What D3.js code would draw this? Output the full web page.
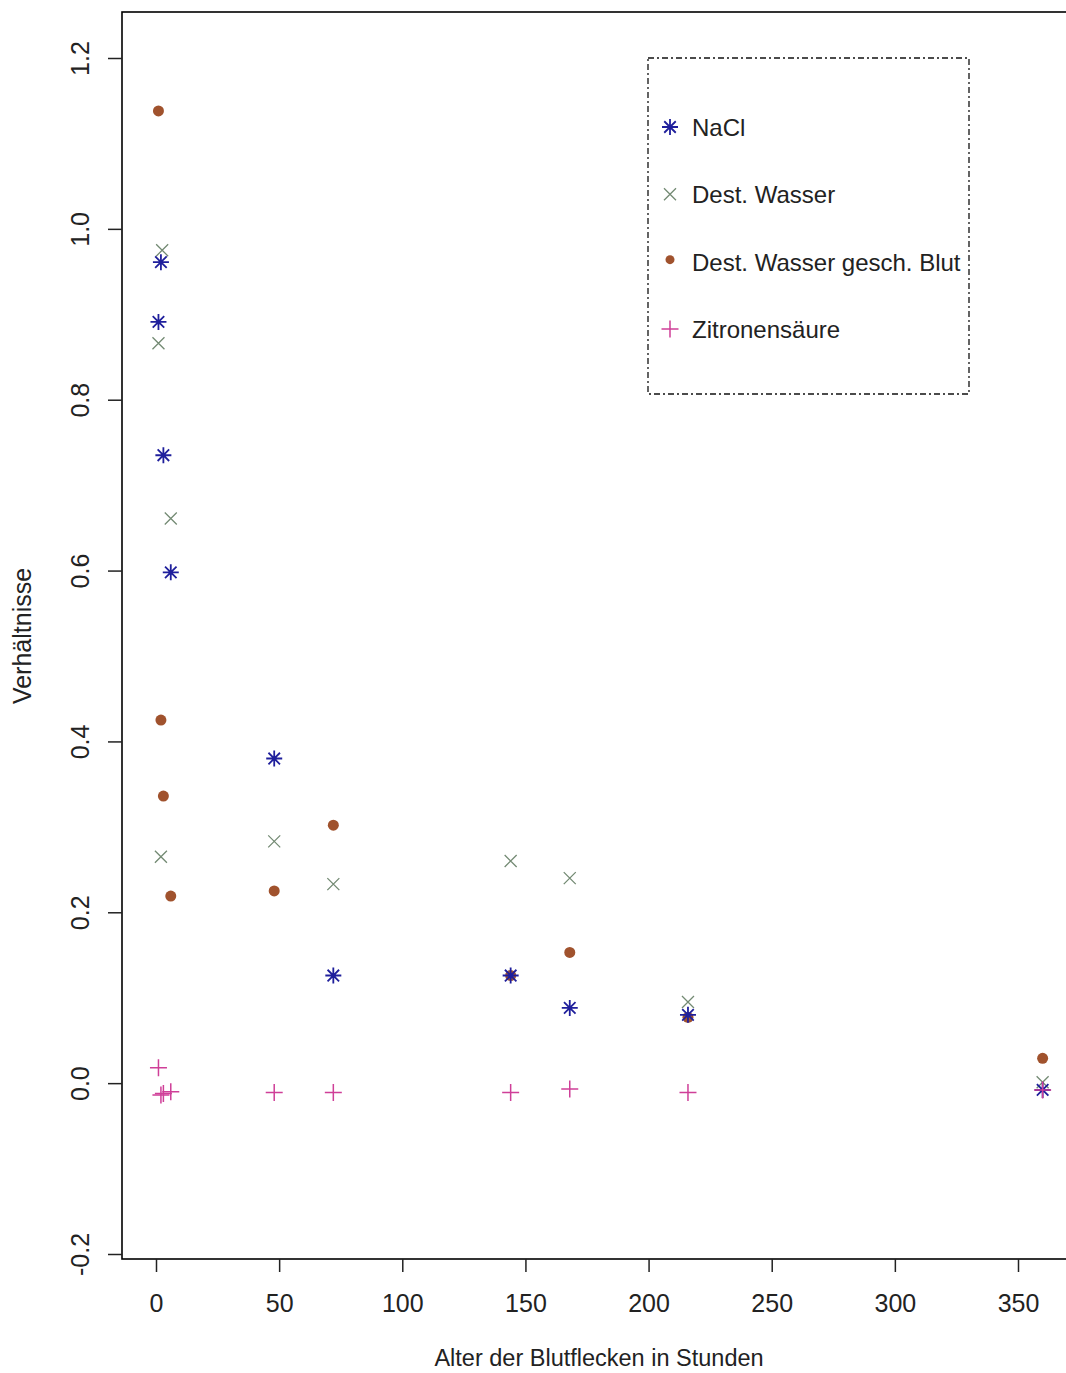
<!DOCTYPE html>
<html>
<head>
<meta charset="utf-8">
<script src="https://cdn.jsdelivr.net/npm/d3@7"></script>
<style>
  html, body { margin: 0; padding: 0; background: #fff; }
  svg { display: block; font-family: "Liberation Sans", Arial, sans-serif; }
</style>
</head>
<body>
<svg id="chart" width="1066" height="1373"></svg>
<script>
// Age of the blood stains (hours) and measured ratios per solvent
const hoursNaCl   = [1, 2, 3, 6, 48, 72, 144, 168, 216, 360];
const valuesNaCl  = [0.891, 0.961, 0.735, 0.598, 0.380, 0.126, 0.126, 0.088, 0.080, -0.008];

const hoursWasser  = [1, 2, 2.5, 6, 48, 72, 144, 168, 216, 360];
const valuesWasser = [0.866, 0.265, 0.975, 0.661, 0.283, 0.233, 0.260, 0.240, 0.095, 0.001];

const hoursBlut  = [1, 2, 3, 6, 48, 72, 144, 168, 216, 360];
const valuesBlut = [1.138, 0.425, 0.336, 0.219, 0.225, 0.302, 0.126, 0.153, 0.077, 0.029];

const hoursZitrone  = [1, 2, 3, 6, 48, 72, 144, 168, 216, 360];
const valuesZitrone = [0.018, -0.014, -0.012, -0.010, -0.011, -0.011, -0.011, -0.007, -0.011, -0.008];

const seriesNames = ["NaCl", "Dest. Wasser", "Dest. Wasser gesch. Blut", "Zitronensäure"];
const xTicks = [0, 50, 100, 150, 200, 250, 300, 350];
const yTicks = [-0.2, 0.0, 0.2, 0.4, 0.6, 0.8, 1.0, 1.2];
const yTickLabels = ["-0.2", "0.0", "0.2", "0.4", "0.6", "0.8", "1.0", "1.2"];

const xTitle = "Alter der Blutflecken in Stunden";
const yTitle = "Verhältnisse";

// ---- symbols (size = half-width in px) ----
const plusSym = { draw(ctx, r) { ctx.moveTo(-r, 0); ctx.lineTo(r, 0); ctx.moveTo(0, -r); ctx.lineTo(0, r); } };
const timesSym = { draw(ctx, r) { ctx.moveTo(-r, -r); ctx.lineTo(r, r); ctx.moveTo(-r, r); ctx.lineTo(r, -r); } };
const starSym = { draw(ctx, r) {
  const d = r * 0.72;
  ctx.moveTo(-r, 0); ctx.lineTo(r, 0); ctx.moveTo(0, -r); ctx.lineTo(0, r);
  ctx.moveTo(-d, -d); ctx.lineTo(d, d); ctx.moveTo(-d, d); ctx.lineTo(d, -d);
} };

const series = [
  { name: seriesNames[2], hours: hoursBlut, values: valuesBlut, type: d3.symbolCircle, size: 5.5 * 5.5 * Math.PI, color: "#a0522d", fill: true },
  { name: seriesNames[1], hours: hoursWasser, values: valuesWasser, type: timesSym, size: 6, color: "#738a73", width: 1.3 },
  { name: seriesNames[0], hours: hoursNaCl, values: valuesNaCl, type: starSym, size: 8, color: "#1f1f9c", width: 1.8 },
  { name: seriesNames[3], hours: hoursZitrone, values: valuesZitrone, type: plusSym, size: 8.5, color: "#cf3f98", width: 1.5 }
];

const svg = d3.select("#chart");

const x = d3.scaleLinear().domain([0, 350]).range([156, 1018]);
const y = d3.scaleLinear().domain([-0.2, 1.2]).range([1254, 58]);

const box = { left: 122, top: 12, right: 1080, bottom: 1259 };

// plot frame
svg.append("rect")
  .attr("x", box.left).attr("y", box.top)
  .attr("width", box.right - box.left).attr("height", box.bottom - box.top)
  .attr("fill", "none").attr("stroke", "#000").attr("stroke-width", 1.6);

// x axis
const gx = svg.append("g")
  .attr("transform", `translate(0,${box.bottom})`)
  .call(d3.axisBottom(x).tickValues(xTicks).tickSize(13).tickPadding(22).tickFormat(d3.format("d")));
gx.select(".domain").remove();
gx.selectAll(".tick line").attr("stroke", "#222").attr("stroke-width", 1.5);
gx.selectAll(".tick text").attr("font-size", 25).attr("fill", "#222").attr("font-family", "Liberation Sans, Arial, sans-serif");

// y axis with vertical labels
const gy = svg.append("g")
  .attr("transform", `translate(${box.left},0)`)
  .call(d3.axisLeft(y).tickValues(yTicks).tickSize(14).tickFormat((d, i) => yTickLabels[i]));
gy.select(".domain").remove();
gy.selectAll(".tick line").attr("stroke", "#222").attr("stroke-width", 1.5);
gy.selectAll(".tick text")
  .attr("font-size", 25).attr("fill", "#222").attr("font-family", "Liberation Sans, Arial, sans-serif")
  .attr("text-anchor", "middle").attr("dy", null)
  .attr("x", 0).attr("y", -33)
  .attr("transform", "rotate(-90)");

// axis titles
svg.append("text")
  .attr("x", 599).attr("y", 1366)
  .attr("text-anchor", "middle").attr("font-size", 23.5).attr("fill", "#222")
  .text(xTitle);
svg.append("text")
  .attr("transform", "translate(31,636) rotate(-90)")
  .attr("text-anchor", "middle").attr("font-size", 25).attr("fill", "#222")
  .text(yTitle);

// points
series.forEach(s => {
  const sym = d3.symbol().type(s.type).size(s.size);
  svg.append("g").selectAll("path")
    .data(s.hours.map((h, i) => [h, s.values[i]]))
    .join("path")
    .attr("transform", d => `translate(${x(d[0])},${y(d[1])})`)
    .attr("d", sym())
    .attr("fill", s.fill ? s.color : "none")
    .attr("stroke", s.fill ? "none" : s.color)
    .attr("stroke-width", s.width || 0);
});

// legend
const legendOrder = [2, 1, 0, 3].map(i => series[i]); // NaCl, Wasser, Blut, Zitrone
const lg = svg.append("g");
lg.append("rect")
  .attr("x", 648).attr("y", 58).attr("width", 321).attr("height", 336)
  .attr("fill", "#fff").attr("stroke", "#111").attr("stroke-width", 1.3)
  .attr("stroke-dasharray", "6,3,2,3");
const rowY = d3.scalePoint().domain(legendOrder.map(s => s.name)).range([127, 329]);
legendOrder.forEach(s => {
  const yy = rowY(s.name);
  const isDot = s.fill;
  lg.append("path")
    .attr("transform", `translate(670,${isDot ? yy - 2 : yy})`)
    .attr("d", d3.symbol().type(s.type).size(isDot ? 4.5 * 4.5 * Math.PI : s.size)())
    .attr("fill", s.fill ? s.color : "none")
    .attr("stroke", s.fill ? "none" : s.color)
    .attr("stroke-width", s.width || 0);
  lg.append("text")
    .attr("x", 692).attr("y", yy + 9)
    .attr("font-size", 24).attr("fill", "#222")
    .text(s.name);
});
</script>
</body>
</html>
